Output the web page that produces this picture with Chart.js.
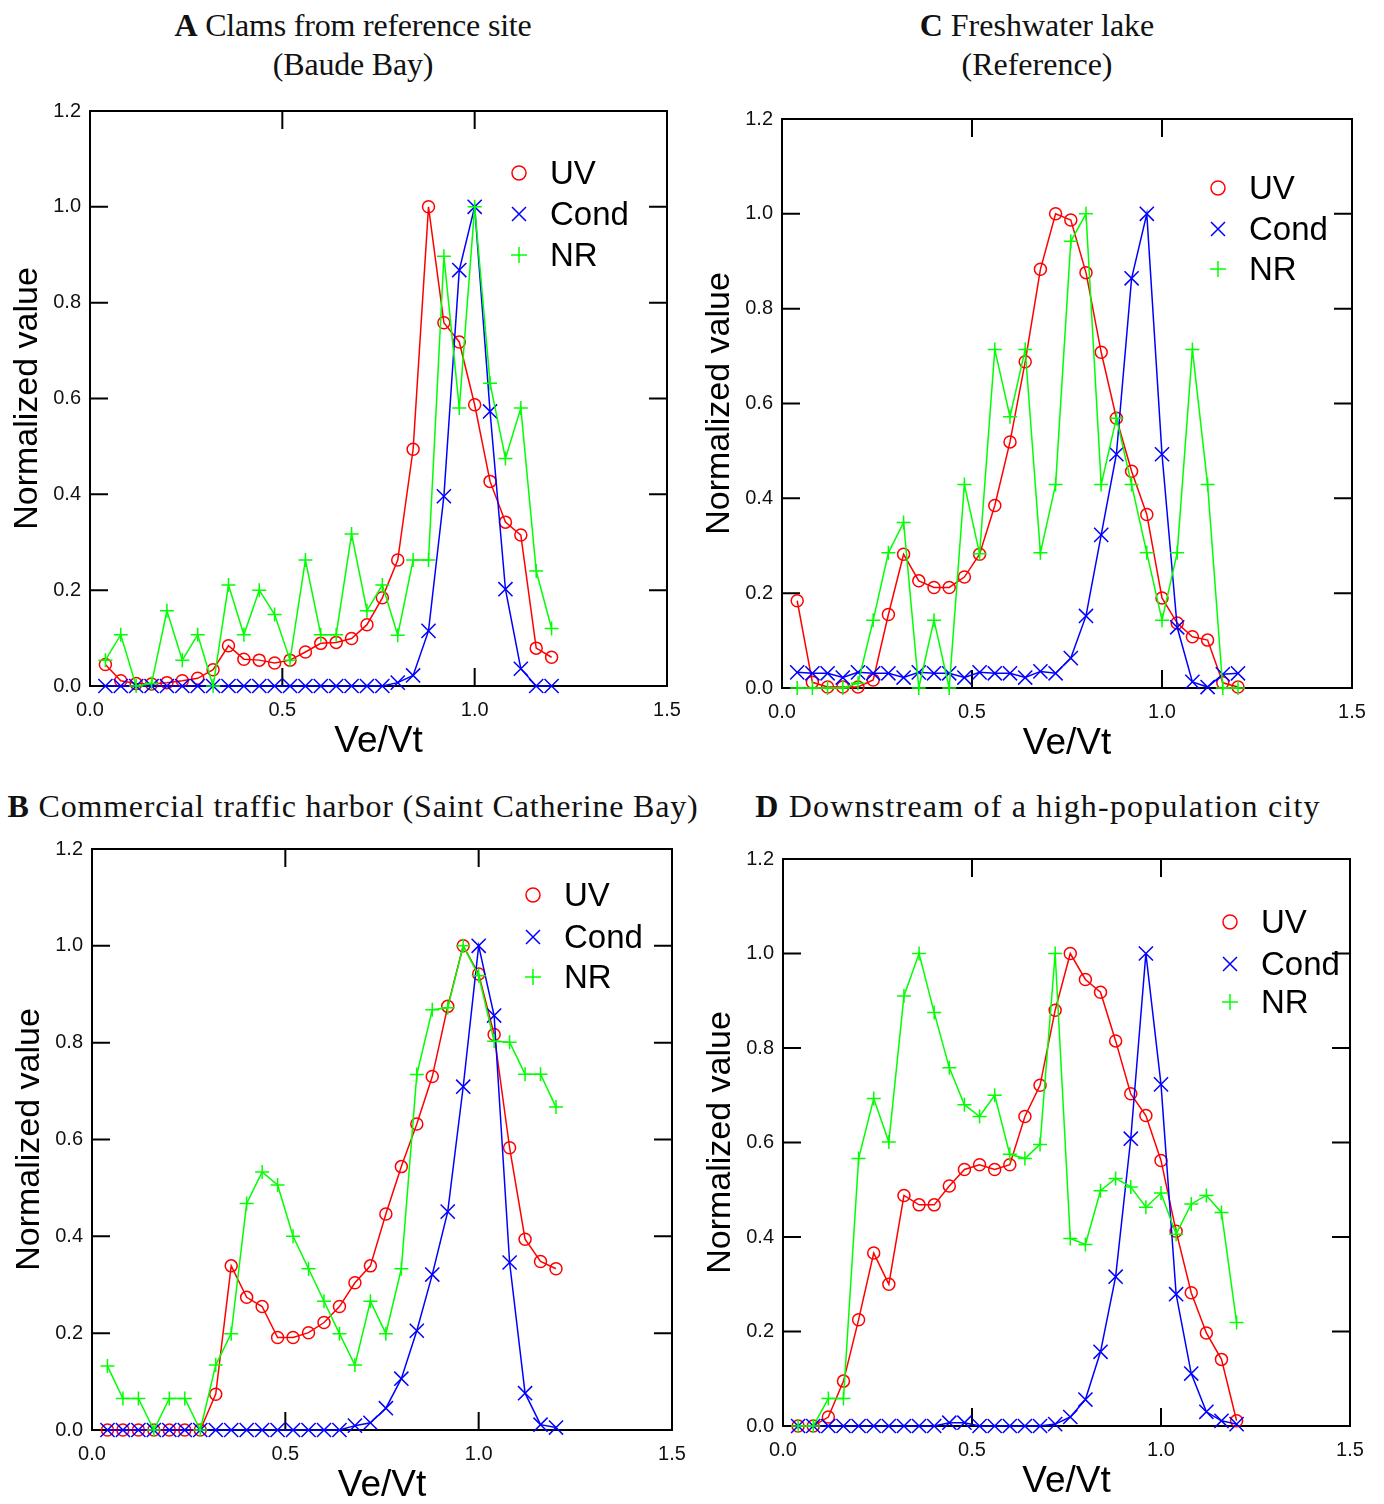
<!DOCTYPE html>
<html lang="en">
<head>
<meta charset="UTF-8">
<title>Normalized value vs Ve/Vt</title>
<script src="https://cdn.jsdelivr.net/npm/chart.js"></script>
<style>
  body { margin: 0; background: #fff; width: 1384px; height: 1504px; position: relative; overflow: hidden; }
  .title { position: absolute; width: 800px; text-align: center; font-family: "Liberation Serif", "Times New Roman", serif; font-size: 32px; line-height: 39px; color: #111; z-index: 2; }
  canvas { position: absolute; }
</style>
</head>
<body>
<div class="title" style="left:-47px; top:6px; letter-spacing:-0.2px;"><b>A</b> Clams from reference site<br>(Baude Bay)</div>
<div class="title" style="left:637px; top:6px;"><b>C</b> Freshwater lake<br>(Reference)</div>
<div class="title" style="left:-47px; top:787px; letter-spacing:0.8px;"><b>B</b> Commercial traffic harbor (Saint Catherine Bay)</div>
<div class="title" style="left:638px; top:787px; letter-spacing:1.2px;"><b>D</b> Downstream of a high-population city</div>

<canvas id="cA"></canvas>
<canvas id="cC"></canvas>
<canvas id="cB"></canvas>
<canvas id="cD"></canvas>

<script>
// sample positions (Ve/Vt)
const xVals = [0.04, 0.08, 0.12, 0.16, 0.20, 0.24, 0.28, 0.32, 0.36, 0.40,
               0.44, 0.48, 0.52, 0.56, 0.60, 0.64, 0.68, 0.72, 0.76, 0.80,
               0.84, 0.88, 0.92, 0.96, 1.00, 1.04, 1.08, 1.12, 1.16, 1.20];
const xTickVals = [0, 0.5, 1.0, 1.5];
const yTickVals = [0, 0.2, 0.4, 0.6, 0.8, 1.0, 1.2];
const seriesNames = ['UV', 'Cond', 'NR'];

// A - clams from reference site
const aUV   = [0.045, 0.011, 0.005, 0.004, 0.007, 0.011, 0.016, 0.034, 0.084, 0.056,
               0.054, 0.048, 0.054, 0.071, 0.089, 0.091, 0.099, 0.128, 0.184, 0.263,
               0.494, 1.0, 0.758, 0.718, 0.587, 0.427, 0.342, 0.315, 0.079, 0.060];
const aCond = [0, 0, 0, 0, 0, 0, 0, 0, 0, 0,
               0, 0, 0, 0, 0, 0, 0, 0, 0, 0.007,
               0.022, 0.115, 0.396, 0.868, 1.0, 0.573, 0.202, 0.036, 0, 0];
const aNR   = [0.054, 0.107, 0.0, 0.005, 0.157, 0.054, 0.107, 0.0, 0.211, 0.107,
               0.200, 0.149, 0.054, 0.263, 0.107, 0.107, 0.317, 0.157, 0.211, 0.106,
               0.263, 0.263, 0.897, 0.580, 1.0, 0.632, 0.475, 0.580, 0.240, 0.120];

// C - freshwater lake
const cUV   = [0.184, 0.012, 0.002, 0.002, 0.002, 0.017, 0.155, 0.282, 0.226, 0.212,
               0.212, 0.234, 0.282, 0.385, 0.519, 0.688, 0.883, 1.0, 0.987, 0.876,
               0.708, 0.569, 0.457, 0.366, 0.190, 0.137, 0.108, 0.101, 0.011, 0.002];
const cCond = [0.033, 0.031, 0.031, 0.022, 0.033, 0.031, 0.031, 0.022, 0.033, 0.031,
               0.031, 0.022, 0.033, 0.031, 0.031, 0.022, 0.035, 0.031, 0.063, 0.152,
               0.323, 0.493, 0.864, 1.0, 0.493, 0.128, 0.013, 0.002, 0.029, 0.031];
const cNR   = [0, 0, 0, 0, 0.010, 0.143, 0.285, 0.349, 0, 0.143,
               0, 0.429, 0.283, 0.714, 0.572, 0.714, 0.285, 0.429, 0.942, 1.0,
               0.429, 0.569, 0.429, 0.285, 0.143, 0.285, 0.714, 0.429, 0, 0];

// B - commercial traffic harbor
const bUV   = [0, 0, 0, 0, 0, 0, 0, 0.074, 0.339, 0.274,
               0.255, 0.191, 0.191, 0.201, 0.222, 0.255, 0.304, 0.339, 0.446, 0.544,
               0.632, 0.730, 0.875, 1.0, 0.942, 0.817, 0.583, 0.394, 0.348, 0.333];
const bCond = [0, 0, 0, 0, 0, 0, 0, 0, 0, 0,
               0, 0, 0, 0, 0, 0, 0.009, 0.015, 0.045, 0.106,
               0.205, 0.321, 0.451, 0.709, 1.0, 0.856, 0.346, 0.076, 0.011, 0.005];
const bNR   = [0.132, 0.065, 0.065, 0, 0.065, 0.065, 0, 0.134, 0.199, 0.468,
               0.533, 0.506, 0.400, 0.333, 0.266, 0.199, 0.134, 0.266, 0.199, 0.333,
               0.734, 0.868, 0.872, 1.0, 0.938, 0.803, 0.801, 0.735, 0.735, 0.667];

// D - downstream of a city
const dUV   = [0, 0, 0.019, 0.095, 0.225, 0.366, 0.300, 0.488, 0.468, 0.468,
               0.508, 0.543, 0.553, 0.543, 0.553, 0.655, 0.721, 0.880, 1.0, 0.945,
               0.918, 0.815, 0.703, 0.657, 0.562, 0.412, 0.282, 0.197, 0.141, 0.011];
const dCond = [0, 0, 0, 0, 0, 0, 0, 0, 0, 0,
               0.007, 0.007, 0, 0, 0, 0, 0, 0.004, 0.019, 0.056,
               0.157, 0.316, 0.608, 1.0, 0.723, 0.279, 0.111, 0.030, 0.011, 0.004];
const dNR   = [0, 0, 0.058, 0.058, 0.566, 0.693, 0.601, 0.910, 1.0, 0.875,
               0.758, 0.680, 0.655, 0.700, 0.575, 0.566, 0.596, 1.0, 0.397, 0.384,
               0.498, 0.524, 0.506, 0.463, 0.493, 0.406, 0.470, 0.488, 0.452, 0.219];

const RED = '#ff0000', BLUE = '#0000ff', GREEN = '#00ff00';
const SANS = "'Liberation Sans', Arial, Helvetica, sans-serif";

// plot box + inward tick marks on all four sides
const framePlugin = {
    id: 'frame',
    beforeDatasetsDraw(chart) {
        const { ctx, chartArea: a, scales: { x, y } } = chart;
        ctx.save();
        ctx.strokeStyle = '#000';
        ctx.lineWidth = 2;
        ctx.strokeRect(a.left, a.top, a.right - a.left, a.bottom - a.top);
        ctx.beginPath();
        y.ticks.forEach(t => {
            const py = y.getPixelForValue(t.value);
            if (py <= a.top + 1 || py >= a.bottom - 1) return;
            ctx.moveTo(a.left, py); ctx.lineTo(a.left + 18, py);
            ctx.moveTo(a.right, py); ctx.lineTo(a.right - 18, py);
        });
        x.ticks.forEach(t => {
            const px = x.getPixelForValue(t.value);
            if (px <= a.left + 1 || px >= a.right - 1) return;
            ctx.moveTo(px, a.bottom); ctx.lineTo(px, a.bottom - 18);
            ctx.moveTo(px, a.top); ctx.lineTo(px, a.top + 18);
        });
        ctx.stroke();
        ctx.restore();
    }
};

function drawMark(ctx, style, cx, cy, color) {
    ctx.strokeStyle = color;
    ctx.lineWidth = 1.5;
    ctx.beginPath();
    if (style === 'circle') {
        ctx.arc(cx, cy, 7, 0, Math.PI * 2);
    } else if (style === 'crossRot') {
        ctx.moveTo(cx - 7, cy - 7); ctx.lineTo(cx + 7, cy + 7);
        ctx.moveTo(cx - 7, cy + 7); ctx.lineTo(cx + 7, cy - 7);
    } else {
        ctx.moveTo(cx - 8, cy); ctx.lineTo(cx + 8, cy);
        ctx.moveTo(cx, cy - 8); ctx.lineTo(cx, cy + 8);
    }
    ctx.stroke();
}

function legendPlugin(lg) {
    return {
        id: 'boxLegend',
        afterDatasetsDraw(chart) {
            const { ctx, chartArea: a } = chart;
            ctx.save();
            ctx.font = '33px ' + SANS;
            ctx.textBaseline = 'middle';
            ctx.fillStyle = '#000';
            chart.data.datasets.forEach((ds, i) => {
                const mx = a.right + lg.dx, my = a.top + lg.dy[i];
                drawMark(ctx, ds.pointStyle, mx, my, ds.borderColor);
                ctx.fillText(ds.label, mx + 31, my + 2);
            });
            ctx.restore();
        }
    };
}

function makeChart(p) {
    const cv = document.getElementById(p.id);
    const left = p.area.l - 90, top = p.area.t - 20;
    cv.width = p.area.r + 33 - left;
    cv.height = p.area.b + 84 - top;
    cv.style.left = left + 'px';
    cv.style.top = top + 'px';

    const pts = ys => xVals.map((x, i) => ({ x: x, y: ys[i] }));

    new Chart(cv, {
        type: 'line',
        data: {
            datasets: [
                { label: seriesNames[0], data: pts(p.uv), borderColor: RED, pointBorderColor: RED,
                  pointBackgroundColor: 'rgba(0,0,0,0)', pointStyle: 'circle', pointRadius: 6, order: 2 },
                { label: seriesNames[1], data: pts(p.cond), borderColor: BLUE, pointBorderColor: BLUE,
                  pointStyle: 'crossRot', pointRadius: 10, order: 1 },
                { label: seriesNames[2], data: pts(p.nr), borderColor: GREEN, pointBorderColor: GREEN,
                  pointStyle: 'cross', pointRadius: 7, order: 0 }
            ].map(ds => Object.assign(ds, { fill: false, clip: false, backgroundColor: 'rgba(0,0,0,0)' }))
        },
        options: {
            responsive: false,
            devicePixelRatio: 1,
            animation: false,
            events: [],
            layout: { padding: { left: 0, top: 20, right: 33, bottom: 0 } },
            elements: {
                line: { borderWidth: 1.5, tension: 0 },
                point: { borderWidth: 1.5, hoverRadius: 6 }
            },
            plugins: { legend: { display: false }, tooltip: { enabled: false } },
            scales: {
                x: {
                    type: 'linear', min: 0, max: 1.5,
                    afterBuildTicks: s => { s.ticks = xTickVals.map(v => ({ value: v })); },
                    afterFit: s => { s.height = 84; },
                    grid: { display: false, drawTicks: false },
                    border: { display: false },
                    ticks: { padding: 12, color: '#111', font: { family: SANS, size: 20 },
                             maxRotation: 0, autoSkip: false, callback: v => v.toFixed(1) },
                    title: { display: true, text: 'Ve/Vt', color: '#000',
                             font: { family: SANS, size: 37 }, padding: { top: 0, bottom: 6 } }
                },
                y: {
                    type: 'linear', min: 0, max: 1.2,
                    afterBuildTicks: s => { s.ticks = yTickVals.map(v => ({ value: v })); },
                    afterFit: s => { s.width = 90; },
                    grid: { display: false, drawTicks: false },
                    border: { display: false },
                    ticks: { padding: 9, color: '#111', font: { family: SANS, size: 20 },
                             callback: v => v.toFixed(1) },
                    title: { display: true, text: 'Normalized value', color: '#000',
                             font: { family: SANS, size: 34 }, padding: { top: 7, bottom: 0 } }
                }
            }
        },
        plugins: [framePlugin, legendPlugin(p.legend)]
    });
}

const panels = [
    { id: 'cA', uv: aUV, cond: aCond, nr: aNR, area: { l: 90, r: 667, t: 110, b: 686 },
      legend: { dx: -148, dy: [62, 103, 144] } },
    { id: 'cC', uv: cUV, cond: cCond, nr: cNR, area: { l: 782, r: 1352, t: 118, b: 688 },
      legend: { dx: -134, dy: [69, 110, 150] } },
    { id: 'cB', uv: bUV, cond: bCond, nr: bNR, area: { l: 92, r: 672, t: 848, b: 1430 },
      legend: { dx: -139, dy: [46, 88, 128] } },
    { id: 'cD', uv: dUV, cond: dCond, nr: dNR, area: { l: 783, r: 1350, t: 858, b: 1426 },
      legend: { dx: -120, dy: [63, 105, 143] } }
];

panels.forEach(makeChart);
</script>
</body>
</html>
